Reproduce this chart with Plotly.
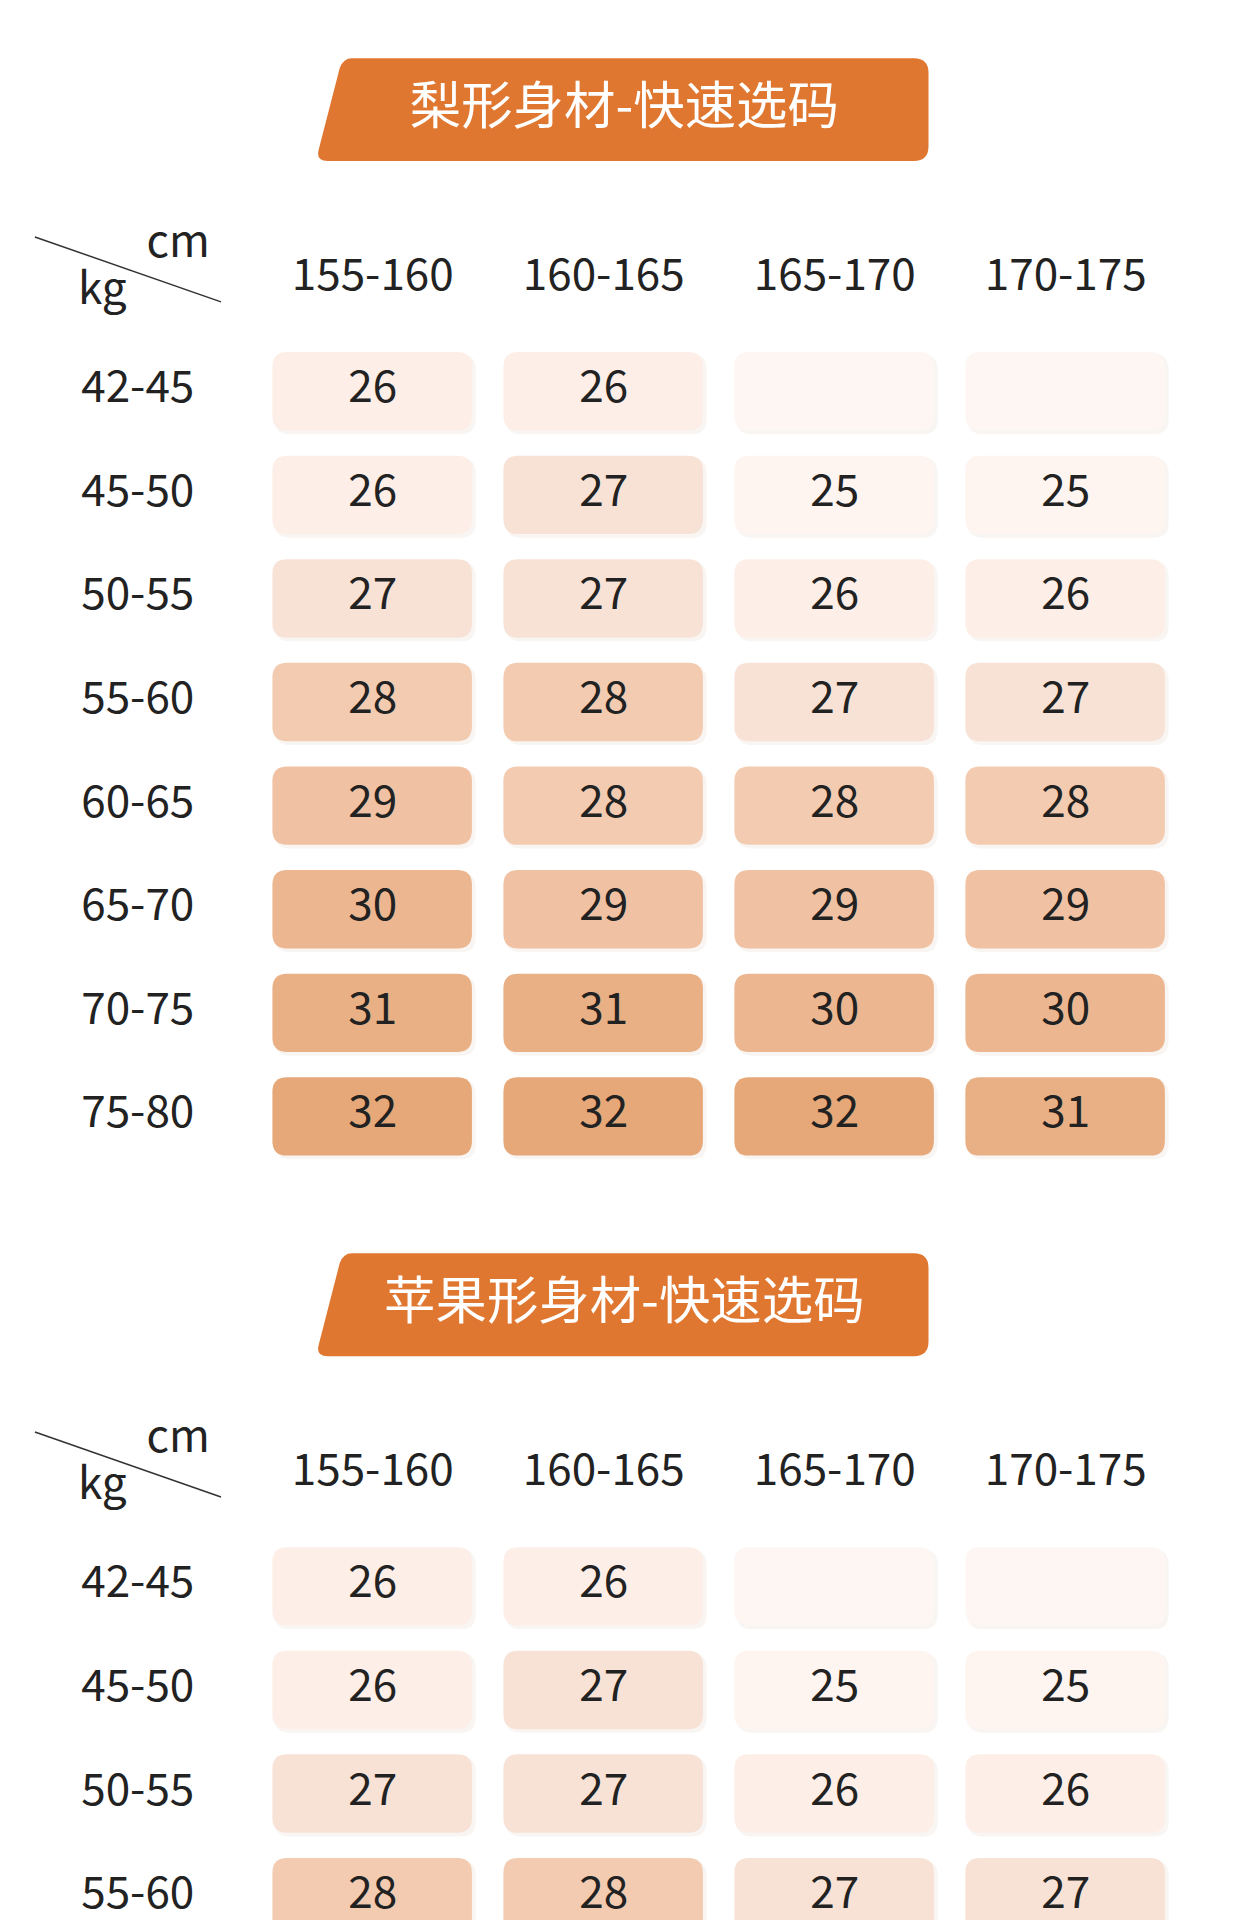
import plotly.graph_objects as go

heights = ['155-160', '160-165', '165-170', '170-175']
weights = ['42-45', '45-50', '50-55', '55-60', '60-65', '65-70', '70-75', '75-80']
pear_sizes = [
    [26, 26, None, None],
    [26, 27, 25, 25],
    [27, 27, 26, 26],
    [28, 28, 27, 27],
    [29, 28, 28, 28],
    [30, 29, 29, 29],
    [31, 31, 30, 30],
    [32, 32, 32, 31],
]
apple_sizes = [
    [26, 26, None, None],
    [26, 27, 25, 25],
    [27, 27, 26, 26],
    [28, 28, 27, 27],
]
titles = ['梨形身材-快速选码', '苹果形身材-快速选码']

size_colors = {None: '#fdf6f3', 25: '#fef4f0', 26: '#fdeee7', 27: '#f8e2d6',
               28: '#f3cbb1', 29: '#f0c2a3', 30: '#ecb790', 31: '#e9b085', 32: '#e6a878'}

FONT = 'Noto Sans CJK SC'
S = 1240 / 1013  # px per layout unit
DX, DY = -6, -3
col_x = [304 + DX + i * 188.7 for i in range(len(heights))]
row_step = 84.6


def rrect(x0, y0, x1, y1, r):
    return (f'M{x0+r},{y0} L{x1-r},{y0} Q{x1},{y0} {x1},{y0+r} L{x1},{y1-r} '
            f'Q{x1},{y1} {x1-r},{y1} L{x0+r},{y1} Q{x0},{y1} {x0},{y1-r} '
            f'L{x0},{y0+r} Q{x0},{y0} {x0+r},{y0} Z')


fig = go.Figure()
shapes = []
text_font = dict(family=FONT, size=36 * S, color='#222')


def add_table(top, title, sizes):
    top = top + DY
    # banner
    bx0, bx1, by0, by1 = 257 + DX, 758 + DX, top, top + 84
    shapes.append(dict(type='path', xref='x', yref='y', line_width=0, fillcolor='#e07730',
                       layer='below',
                       path=(f'M{bx0+30},{by0} L{bx1-12},{by0} Q{bx1},{by0} {bx1},{by0+12} '
                             f'L{bx1},{by1-12} Q{bx1},{by1} {bx1-12},{by1} L{bx0+10},{by1} '
                             f'Q{bx0},{by1} {bx0+3},{by1-10} L{bx0+20},{by0+8} '
                             f'Q{bx0+23},{by0} {bx0+30},{by0} Z')))
    fig.add_trace(go.Scatter(x=[(bx0 + bx1) / 2 + 2], y=[top + 43], mode='text', text=[title],
                             textfont=dict(family=FONT, size=42 * S, color='white'),
                             hoverinfo='skip'))
    # corner
    hy = top + 180
    shapes.append(dict(type='line', xref='x', yref='y', x0=28 + DX, y0=top + 146, x1=180 + DX,
                       y1=top + 199, line=dict(color='#333', width=1.5)))
    fig.add_trace(go.Scatter(x=[145 + DX, 83 + DX], y=[top + 153, top + 192], mode='text',
                             text=['cm', 'kg'], textfont=text_font, hoverinfo='skip'))
    fig.add_trace(go.Scatter(x=col_x, y=[hy] * len(heights), mode='text', text=heights,
                             textfont=text_font, hoverinfo='skip'))
    ry = [hy + 92 + i * row_step for i in range(len(sizes))]
    fig.add_trace(go.Scatter(x=[112 + DX] * len(sizes), y=ry, mode='text',
                             text=weights[:len(sizes)], textfont=text_font, hoverinfo='skip'))
    xs, ys, ts = [], [], []
    for r, row in enumerate(sizes):
        for c, v in enumerate(row):
            cx, cy = col_x[c], ry[r]
            shapes.append(dict(type='path', xref='x', yref='y', line_width=0,
                               fillcolor='rgba(200,170,150,0.12)', layer='below',
                               path=rrect(cx - 80, cy - 30, cx + 84, cy + 35, 12)))
            shapes.append(dict(type='path', xref='x', yref='y', line_width=0,
                               fillcolor=size_colors[v], layer='below',
                               path=rrect(cx - 82, cy - 32, cx + 81, cy + 32, 12)))
            if v is not None:
                xs.append(cx); ys.append(cy); ts.append(str(v))
    fig.add_trace(go.Scatter(x=xs, y=ys, mode='text', text=ts,
                             textfont=text_font, hoverinfo='skip'))


add_table(44, titles[0], pear_sizes)
add_table(1020, titles[1], apple_sizes)

fig.update_layout(
    width=1240, height=1920, margin=dict(l=0, r=0, t=0, b=0),
    paper_bgcolor='white', plot_bgcolor='white', showlegend=False, shapes=shapes,
    xaxis=dict(range=[0, 1013], visible=False, fixedrange=True),
    yaxis=dict(range=[1568, 0], visible=False, fixedrange=True),
)
fig.write_html('out.html')
